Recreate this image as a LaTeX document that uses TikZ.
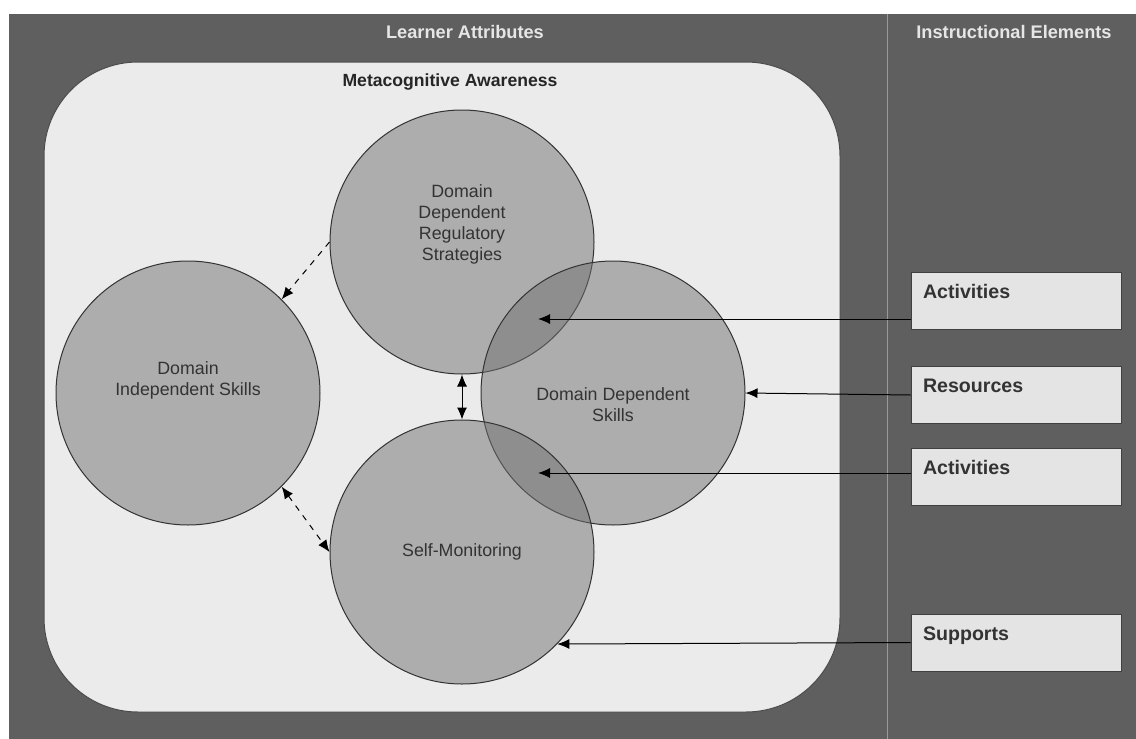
\documentclass[tikz,border=0pt]{standalone}
\usepackage{fontspec}
\setmainfont{Liberation Sans}
\usetikzlibrary{arrows.meta}
\definecolor{framegray}{HTML}{5F5F5F}
\definecolor{innerfill}{HTML}{EBEBEB}
\definecolor{boxfill}{HTML}{E4E4E4}
\definecolor{headtext}{HTML}{E6E6E6}
\definecolor{divider}{HTML}{9A9A9A}
\begin{document}
\begin{tikzpicture}[x=0.5pt, y=-0.5pt, -{Latex[length=6pt, width=5pt]}, line width=0.5pt,
circ/.style = {draw=black!80, circle, minimum size=132pt, inner sep=0pt, fill=black!56, fill opacity=0.5},
ctext/.style = {text=black!80, fill opacity=1, text opacity=1, font=\fontsize{8.9}{10.5}\selectfont, align=center},
ibox/.style = {draw=black!75, fill=boxfill, minimum width=105pt, minimum height=28.5pt, inner xsep=6pt, inner ysep=0pt,
  text width=93pt, text height=13pt, text depth=15.5pt, align=left, text=black!80, font=\bfseries\fontsize{9.8}{11}\selectfont},
head/.style = {text=headtext, font=\bfseries\fontsize{9.1}{11}\selectfont},
both/.style = {{Latex[length=6pt, width=5pt]}-{Latex[length=6pt, width=5pt]}}]
    \useasboundingbox[fill=white] (0,0) rectangle (1136,739);

    % panels
    \fill[framegray] (9,14) rectangle (1136,739);
    \draw[-, divider] (887,14) -- (887,739);
    \draw[-, black!70, fill=innerfill, rounded corners=47pt] (44,62) rectangle (840,712);

    \node[head] (la) at (465,32) {Learner Attributes};
    \node[head] (ie) at (1014,32) {Instructional Elements};
    \node[text=black!85, font=\bfseries\fontsize{8.8}{11}\selectfont] (ma) at (450,82) {Metacognitive Awareness};

    % learner attributes
    \node[circ, label={[ctext, yshift=9pt]center:{Domain\\Dependent\\Regulatory\\Strategies}}] (ddrs) at (462,242) {};
    \node[circ, label={[ctext, yshift=6.5pt]center:{Domain\\Independent Skills}}] (dis) at (188,393) {};
    \node[circ, label={[ctext, yshift=-6pt]center:{Domain Dependent\\Skills}}] (dds) at (613,393) {};
    \node[circ, label={[ctext]center:{Self-Monitoring}}] (sm) at (462,552) {};

    % instructional elements
    \node[ibox] (act1) at (1016,300.5) {Activities};
    \node[ibox] (res) at (1016,395) {Resources};
    \node[ibox] (act2) at (1016,477) {Activities};
    \node[ibox] (sup) at (1016,642.5) {Supports};

    \coordinate (lens1) at (538,319);
    \coordinate (lens2) at (538,473);

    \draw[dashed] (ddrs.west) -- (dis.45);
    \draw[dashed, both] (dis.-45) -- (sm.west);
    \draw[both] (ddrs.south) -- (sm.north);

    \draw (act1.west |- lens1) -- (lens1);
    \draw (res.west) -- (dds.east);
    \draw (act2.west |- lens2) -- (lens2);
    \draw (sup.west) -- (sm.-44);

\end{tikzpicture}
\end{document}
